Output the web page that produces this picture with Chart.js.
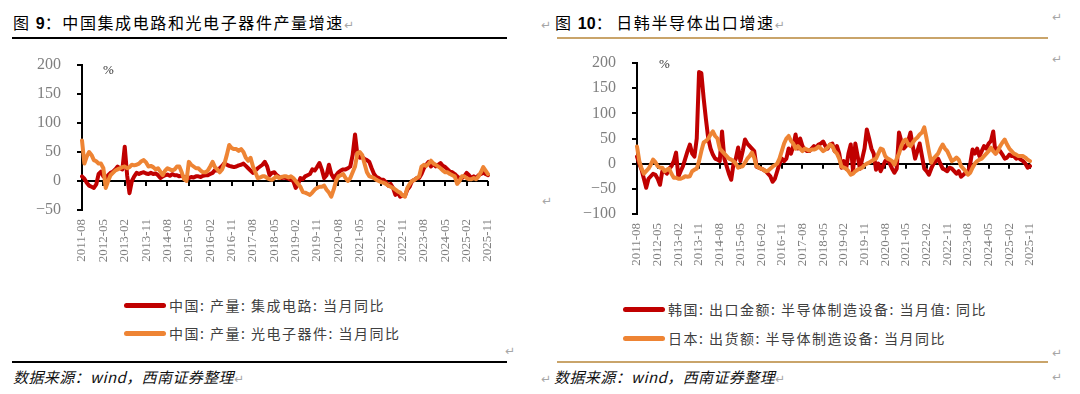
<!DOCTYPE html>
<html>
<head>
<meta charset="utf-8">
<script src="https://cdn.jsdelivr.net/npm/chart.js@4.4.0/dist/chart.umd.min.js"></script>
<style>
  html, body { margin: 0; padding: 0; background: #fff; }
  body { width: 1080px; height: 394px; position: relative; overflow: hidden;
         font-family: "Noto Sans CJK SC", sans-serif; }
  .abs { position: absolute; white-space: nowrap; }
  .title { font-size: 16px; letter-spacing: 1.6px; color: #000; line-height: 20px; }
  .title b { font-family: "Liberation Sans", Arial, sans-serif; font-weight: bold; letter-spacing: 0; }
  .mark { color: #a6a6a6; font-size: 12px; letter-spacing: 0; font-family: "DejaVu Sans", sans-serif; }
  .rule { height: 2px; }
  .src { font-size: 15px; letter-spacing: 0.4px; font-style: italic; color: #111; line-height: 20px; }
  .legend { font-size: 14px; letter-spacing: 1.5px; color: #404040; line-height: 18px; }
  .swatch { position: absolute; height: 5px; width: 42px; border-radius: 3px; }
  .pct { font-family: "Liberation Serif", serif; font-size: 13px; color: #333; }
  .box { position: absolute; width: 540px; height: 230px; top: 50px; }
</style>
</head>
<body>

<div class="abs title" style="left:13px;top:12px">图 <b>9</b>：中国集成电路和光电子器件产量增速<span class="mark">↵</span></div>
<div class="abs rule" style="left:12px;top:37px;width:495px;background:#000"></div>

<div class="abs title" style="left:541px;top:12px"><span class="mark" style="margin-right:4px">↵</span>图 <b>10</b>：<span style="margin-left:3px"></span>日韩半导体出口增速<span class="mark">↵</span></div>
<div class="abs rule" style="left:557px;top:37px;width:491px;background:#c9a46a"></div>
<div class="abs mark" style="left:1052px;top:10px">↵</div>
<div class="abs mark" style="left:1052px;top:52px">↵</div>
<div class="abs mark" style="left:542px;top:194px">↵</div>

<div class="box" style="left:0"><canvas id="chartLeft"></canvas></div>
<div class="box" style="left:540px"><canvas id="chartRight"></canvas></div>

<div class="abs pct" style="left:103px;top:62px">%</div>
<div class="abs pct" style="left:659px;top:56px">%</div>

<div id="legendLeft"></div>
<div id="legendRight"></div>

<div class="abs mark" style="left:505px;top:344px">↵</div>
<div class="abs rule" style="left:12px;top:361px;width:495px;background:#000"></div>
<div class="abs src" style="left:13px;top:367px">数据来源：wind，西南证券整理<span class="mark">↵</span></div>

<div class="abs mark" style="left:1052px;top:346px">↵</div>
<div class="abs rule" style="left:557px;top:361px;width:491px;background:#c9a46a"></div>
<div class="abs src" style="left:541px;top:367px"><span class="mark" style="margin-right:3px">↵</span>数据来源：wind，西南证券整理<span class="mark">↵</span></div>
<div class="abs mark" style="left:1052px;top:370px">↵</div>

<script>
// 月份 2011-08 … 2025-11
const MONTHS = [];
for (let y = 2011, m = 8; y < 2025 || (y === 2025 && m <= 11); ) {
  MONTHS.push(`${y}-${String(m).padStart(2, "0")}`);
  m += 1;
  if (m > 12) { m = 1; y += 1; }
}
const TICK_EVERY = 9;

const LEFT_LABELS = ["中国: 产量: 集成电路: 当月同比", "中国: 产量: 光电子器件: 当月同比"];
const RIGHT_LABELS = ["韩国: 出口金额: 半导体制造设备: 当月值: 同比", "日本: 出货额: 半导体制造设备: 当月同比"];

// 中国: 集成电路产量当月同比 (%)
const IC_OUTPUT = [
  8, 4, -3, -8, -10,
  -12, -6, 12, 16, 8, 5, 10, 14, 16, 20, 25, 22,
  20, 59, 10, -21, 0, 8, 14, 12, 14, 15, 13, 12,
  14, 12, 13, 10, 5, 8, 10, 11, 9, 12, 10, 10,
  8, 9, 7, 6, 5, 7, 6, 8, 8, 7, 9, 10,
  10, 12, 14, 19, 18, 22, 26, 31, 28, 26, 25, 24,
  25, 27, 28, 30, 26, 22, 18, 14, 18, 22, 25, 28,
  33, 25, 10, 14, 15, 10, 7, 5, 6, 5, 4, 2,
  0, -12, -5, 5, 3, 8, 10, 12, 20, 18, 24, 31,
  20, 5, 10, 28, 12, 5, 10, 15, 18, 20, 20, 22,
  25, 45, 80, 45, 40, 41, 38, 36, 33, 22, 12, 7,
  5, 2, 2, -2, -8, -5, -12, -24, -20, -27, -25, -26,
  -15, -10, 0, 2, 5, 5, 12, 22, 28, 33, 25, 30,
  25, 28, 31, 26, 24, 20, 16, 15, 12, 8, 5, 5,
  8, 14, 10, 5, 8, 5, 10, 12, 15, 12, 10
];

// 中国: 光电子器件产量当月同比 (%)
const OPTO_OUTPUT = [
  70, 30, 42, 50, 45,
  36, 34, 30, 30, 22, -12, 0, 10, 14, 18, 20, 22,
  24, 25, 22, 24, 28, 27, 28, 30, 34, 36, 32, 25,
  26, 24, 20, 22, 16, 10, 18, 22, 20, 18, 20, 25,
  25, 15, 3, 0, 33, 28, 25, 22, 22, 18, 15, 15,
  18, 25, 33, 24, 20, 15, 20, 30, 45, 62, 57, 55,
  55, 52, 55, 50, 40, 35, 40, 25, 15, 5, 6, 8,
  8, 5, 3, 2, 5, 8, 5, 7, 8, 8, 6, 8,
  5, 0, -5, -10, -19, -20, -22, -24, -20, -15, -12, -10,
  -10, -8, -15, -20, -27, -15, 0, 8, 10, 12, 5, 0,
  5, 15, 25, 48, 50, 45, 30, 15, 8, 7, 5, 2,
  0, -2, -3, -5, -8, -10, -12, -15, -18, -20, -25, -27,
  -12, -5, 0, 2, 5, 8, 25, 28, 26, 30, 35, 30,
  28, 25, 22, 18, 15, 15, 12, 10, 8, -5, 0, 8,
  8, 5, 3, 3, 5, 3, 8, 15, 24, 18, 12
];

// 韩国: 半导体制造设备出口金额同比 (%)
const KR_EQUIP = [
  14, 0, -12, -30, -48,
  -30, -25, -20, -22, -30, -42, -15, -15, -20, -10, -5, 5,
  22, -26, -15, -5, 10, 25, 38, 20, 14, 50, 182, 180,
  130, 88, 50, 30, 18, 10, 8, 5, 64, 10, -5, -20,
  -32, 0, 10, 32, 5, 25, 48, 40, 35, 30, 25, -6,
  -8, -10, -12, -15, -20, -25, -36, -30, -15, 0, 10, 5,
  10, 30, 20, 35, 58, 30, 50, 35, 28, 25, 25, 30,
  35, 32, 38, 40, 44, 35, 30, 38, 40, 25, 35, 20,
  -8, 5, -10, 20, 38, -15, 40, 15, -10, 10, 30, 68,
  50, 30, 20, -12, 0, -15, -5, 5, 10, 0, -10, -18,
  -10, 62, 45, 30, 35, 45, 62, 35, 10, 25, 40, 15,
  -10, -15, -22, -10, 0, 5, 10, 0, -10, -12, -15, -8,
  -10, -15, -20, -15, -26, -22, -18, -20, 0, 28, 20, 30,
  15, 25, 35, 30, 40, 45, 64, 20, 30, 25, 18, 10,
  12, 18, 15, 15, 10, 12, 8, 5, 0, -8, -5
];

// 日本: 半导体制造设备出货额同比 (%)
const JP_EQUIP = [
  34, 5, -10, -20, -15,
  -10, -2, 8, 3, -5, -8, -8, -15, -12, -10, -20, -28,
  -28, -30, -30, -28, -25, -26, -25, -15, -12, -10, 5, 25,
  42, 45, 50, 58, 64, 55, 50, 30, 25, 20, 15, 10,
  8, 5, 0, -8, -6, -5, 2, 10, 15, 22, 12, -5,
  -8, -10, -12, -15, -14, -10, -6, -3, 0, 10, 25, 40,
  50, 55, 45, 40, 30, 35, 30, 25, 30, 28, 26, 28,
  28, 30, 34, 30, 25, 28, 32, 38, 35, 25, 20, 10,
  -6, -8, -10, -15, -22, -20, -15, -12, -10, -8, -3, 0,
  2, 5, 8, 10, 20, 30, 28, 15, 10, 8, 5, -2,
  10, 20, 35, 45, 48, 38, 35, 42, 48, 52, 58, 62,
  72, 50, 25, 2, 10, 15, 20, 30, 38, 30, 25, 15,
  5, 8, 12, 8, -5, -10, -15, -22, -18, -8, 0, 5,
  8, 10, 15, 20, 25, 32, 25, 20, 25, 35, 42, 48,
  38, 30, 25, 20, 18, 15, 15, 15, 12, 8, 5
];

const RED = "#c00000";
const ORANGE = "#ee8434";
const TICK_GREY = "#7f7f7f";
const SERIF = '"Liberation Serif", "Times New Roman", serif';

// 零轴上的短刻度
const zeroTicks = {
  id: "zeroTicks",
  beforeDatasetsDraw(chart) {
    const { ctx, scales: { x, y } } = chart;
    const y0 = y.getPixelForValue(0);
    ctx.save();
    ctx.strokeStyle = "#000";
    ctx.lineWidth = 2;
    ctx.beginPath();
    for (let i = 0; i < MONTHS.length; i += TICK_EVERY) {
      const px = Math.round(x.getPixelForValue(i));
      ctx.moveTo(px, y0);
      ctx.lineTo(px, y0 + 5);
    }
    ctx.stroke();
    ctx.restore();
  },
};

function series(data, color, order) {
  return {
    data,
    borderColor: color,
    borderWidth: 4,
    borderJoinStyle: "round",
    borderCapStyle: "round",
    pointRadius: 0,
    order,
  };
}

function makeChart(canvas, cfg) {
  return new Chart(canvas.getContext("2d"), {
    type: "line",
    data: {
      labels: MONTHS,
      datasets: [series(cfg.red, RED, 1), series(cfg.orange, ORANGE, 0)],
    },
    options: {
      responsive: true,
      maintainAspectRatio: false,
      animation: false,
      events: [],
      layout: { padding: { top: cfg.top, right: cfg.right, left: 0, bottom: 0 } },
      plugins: { legend: { display: false }, tooltip: { enabled: false } },
      scales: {
        x: {
          type: "category",
          offset: false,
          afterFit(scale) { scale.height = cfg.xHeight; },
          border: { display: false },
          grid: { display: false, drawTicks: false },
          ticks: {
            autoSkip: false,
            minRotation: 90,
            maxRotation: 90,
            padding: 9,
            color: TICK_GREY,
            font: { family: SERIF, size: 13 },
            callback(v, i) { return i % TICK_EVERY === 0 ? MONTHS[i] : ""; },
          },
        },
        y: {
          min: cfg.min,
          max: 200,
          afterFit(scale) {
            scale.width = cfg.yWidth;
            scale.paddingTop = 0;
            scale.paddingBottom = 0;
          },
          border: { display: true, color: "#000", width: 2 },
          grid: {
            drawOnChartArea: true,
            color: (ctx) => (ctx.tick && ctx.tick.value === 0 ? "#000" : "rgba(0,0,0,0)"),
            lineWidth: 2,
            tickColor: "#000",
            tickLength: 5,
            tickWidth: 2,
          },
          ticks: {
            stepSize: 50,
            padding: 16,
            color: TICK_GREY,
            font: { family: SERIF, size: 16 },
            callback(v) { return v < 0 ? "−" + Math.abs(v) : String(v); },
          },
        },
      },
    },
    plugins: [zeroTicks],
  });
}

makeChart(document.getElementById("chartLeft"), {
  red: IC_OUTPUT, orange: OPTO_OUTPUT, min: -50,
  top: 15, right: 52, yWidth: 82, xHeight: 70,
});
makeChart(document.getElementById("chartRight"), {
  red: KR_EQUIP, orange: JP_EQUIP, min: -100,
  top: 13, right: 50, yWidth: 97, xHeight: 66,
});

function buildLegend(el, labels, left, tops) {
  const colors = [RED, ORANGE];
  labels.forEach((text, k) => {
    const sw = document.createElement("div");
    sw.className = "swatch";
    sw.style.left = left + "px";
    sw.style.top = tops[k] - 2 + "px";
    sw.style.background = colors[k];
    el.appendChild(sw);
    const t = document.createElement("div");
    t.className = "abs legend";
    t.style.left = left + 45 + "px";
    t.style.top = tops[k] - 9 + "px";
    t.textContent = text;
    el.appendChild(t);
  });
}
buildLegend(document.getElementById("legendLeft"), LEFT_LABELS, 124, [305, 333]);
buildLegend(document.getElementById("legendRight"), RIGHT_LABELS, 623, [309, 338]);
</script>
</body>
</html>
